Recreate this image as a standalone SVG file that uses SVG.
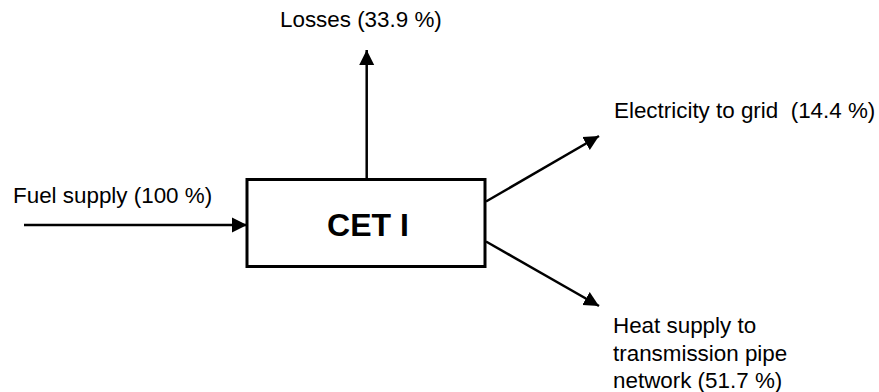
<svg xmlns="http://www.w3.org/2000/svg" width="879" height="392" viewBox="0 0 879 392">
<style>
text{font-family:"Liberation Sans",Arial,sans-serif;fill:#000}
.lbl{font-size:22.4px}
.title{font-size:32px;font-weight:bold}
.conn{stroke:#000;stroke-width:2.5;fill:none;marker-end:url(#ah)}
</style>
<defs>
<marker id="ah" markerUnits="userSpaceOnUse" markerWidth="16" markerHeight="16" viewBox="0 0 16 16" refX="15" refY="8" orient="auto">
<path d="M0,0.5 L15,8 L0,15.5 Z" fill="#000"/>
</marker>
</defs>
<g id="connectors">
<line class="conn" x1="24" y1="225" x2="247" y2="225"/>
<line class="conn" x1="366.7" y1="180" x2="366.7" y2="50"/>
<line class="conn" x1="486" y1="201.5" x2="599" y2="136"/>
<line class="conn" x1="486" y1="241.5" x2="599" y2="306"/>
</g>
<g id="cet">
<rect x="247" y="179.5" width="238" height="87" fill="#fff" stroke="#000" stroke-width="3"/>
<text class="title" x="368" y="236" text-anchor="middle">CET I</text>
</g>
<g id="fuel"><text class="lbl" x="13" y="203">Fuel supply (100 %)</text></g>
<g id="losses"><text class="lbl" x="280" y="27">Losses (33.9 %)</text></g>
<g id="electricity"><text class="lbl" x="614" y="118" xml:space="preserve">Electricity to grid  (14.4 %)</text></g>
<g id="heat"><text class="lbl" x="613" y="333">Heat supply to<tspan x="613" y="360.5">transmission pipe</tspan><tspan x="613" y="388">network (51.7 %)</tspan></text></g>
</svg>
